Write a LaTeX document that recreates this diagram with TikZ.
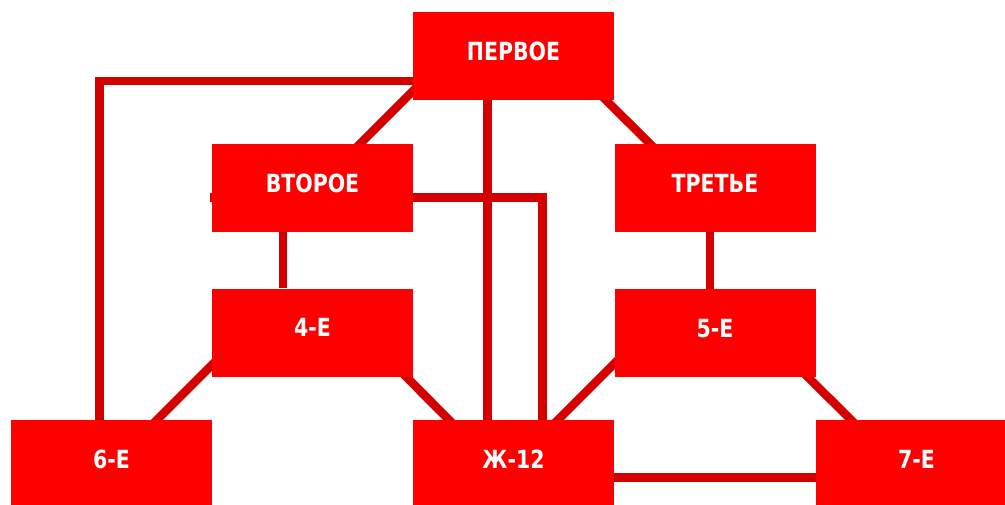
\documentclass[tikz,border=0pt]{standalone}
\usepackage{fontspec}
\setmainfont{DejaVu Sans}
\usetikzlibrary{calc,backgrounds}
\definecolor{boxred}{RGB}{255,0,0}
\definecolor{linered}{RGB}{212,0,0}
\newcommand{\boxtext}[1]{\scalebox{0.82}[1]{#1}}
\tikzset{
  redbox/.style={fill=boxred, draw=none, minimum width=201pt, minimum height=88pt,
    inner sep=0pt, text=white, font=\fontsize{25}{25}\selectfont\bfseries,
    text height=18pt, text depth=9.8pt},
  link/.style={draw=linered, line width=8.5pt, line cap=butt, line join=miter}
}
\begin{document}
\begin{tikzpicture}[x=1pt,y=-1pt]
\useasboundingbox (0,0) rectangle (1005,504);
\node[redbox] (p)  at (513.5,56)  {\boxtext{ПЕРВОЕ}};
\node[redbox] (v)  at (312.5,188) {\boxtext{ВТОРОЕ}};
\node[redbox] (t)  at (715,188)   {\boxtext{ТРЕТЬЕ}};
\node[redbox] (c4) at (312.5,332.5) {\boxtext{4-Е}};
\node[redbox] (c5) at (715,333)   {\boxtext{5-Е}};
\node[redbox] (c6) at (111.5,464) {\boxtext{6-Е}};
\node[redbox] (zh) at (513.5,464) {\boxtext{Ж-12}};
\node[redbox] (c7) at (916.5,464) {\boxtext{7-Е}};
\begin{scope}[on background layer]
\fill[white] (0,0) rectangle (1005,504);
\draw[link] ($(p.west)+(0,25)$) -| ($(c6.north)+(-12,0)$);
\draw[link] ($(v.north)+(42.5,5)$) -- ($(p.west)+(10,25)$);
\draw[link] ($(p.south)+(82.5,-10)$) -- ($(t.north)+(-56,9)$);
\draw[link] ($(p.south)+(-26,0)$) -- ($(zh.north)+(-26,0)$);
\draw[link] ($(v.west)+(-2,9.5)$) -| ($(zh.north)+(29,0)$);
\draw[link] ($(v.south)+(-29.5,0)$) -- ($(c4.north)+(-29.5,0)$);
\draw[link] ($(t.south)+(-5,0)$) -- ($(c5.north)+(-5,0)$);
\draw[link] ($(c4.west)+(10,22.5)$) -- ($(c6.north)+(38.5,7)$);
\draw[link] ($(c4.south)+(84.5,-9)$) -- ($(zh.north)+(-55.5,9)$);
\draw[link] ($(c5.west)+(10.5,20)$) -- ($(zh.north)+(36.5,8)$);
\draw[link] ($(c5.south)+(85,-8)$) -- ($(c7.north)+(-56.5,9)$);
\draw[link] ($(zh.east)+(0,13.5)$) -- ($(c7.west)+(0,13.5)$);
\end{scope}
\end{tikzpicture}
\end{document}
